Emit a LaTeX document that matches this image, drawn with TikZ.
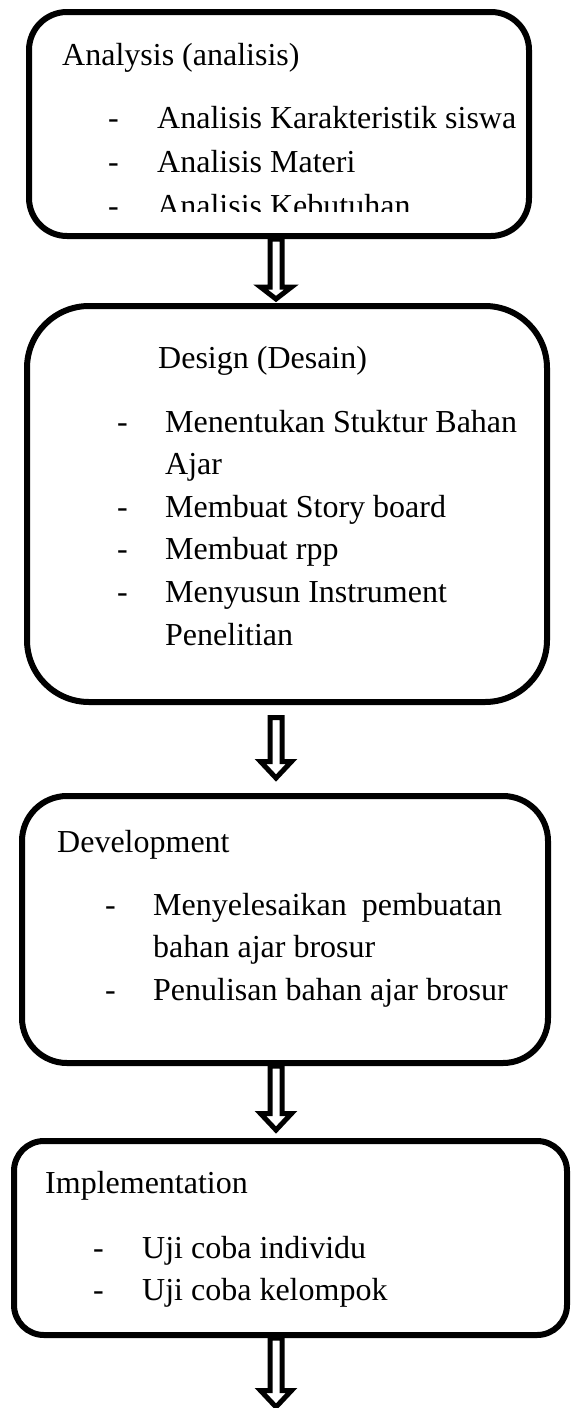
\documentclass[tikz,border=0pt]{standalone}
\usepackage{fontspec}
\setmainfont{Liberation Serif}
\usetikzlibrary{calc}
\pgfdeclarelayer{bg}
\pgfsetlayers{bg,main}
\newcommand\hollowdown[3]{% #1 top point, #2 tip point, #3 head length
  \draw[arrowline] let \p1=(#1), \p2=(#2) in
    (\x1-6pt,\y1) -- (\x1-6pt,\y2+#3) -- (\x1-15.5pt,\y2+#3) -- (\x1,\y2)
    -- (\x1+15.5pt,\y2+#3) -- (\x1+6pt,\y2+#3) -- (\x1+6pt,\y1) -- cycle;}
\begin{document}
\begin{tikzpicture}[x=1pt,y=-1pt,
  stagebox/.style={draw=black, line width=6pt, rectangle, inner sep=0pt, rounded corners=#1},
  arrowline/.style={draw=black, fill=white, line width=5pt, line join=miter},
  txt/.style={anchor=base west, inner sep=0pt, font=\fontsize{32}{38}\selectfont}]
\useasboundingbox (0,0) rectangle (571,1408);
% stage boxes
\node[stagebox=38pt, minimum width=500pt, minimum height=224pt] (b1) at (279,124) {};
\node[stagebox=62pt, minimum width=520pt, minimum height=396pt] (b2) at (287,504) {};
\node[stagebox=45pt, minimum width=526pt, minimum height=267pt] (b3) at (285,929.5) {};
\node[stagebox=30pt, minimum width=553pt, minimum height=194pt] (b4) at (290.5,1238) {};
\coordinate (ax) at (276,0);
\coordinate (end) at (276,1407);
% arrows
\begin{pgfonlayer}{bg}
\hollowdown{b1.south -| ax}{$(b2.north -| ax)+(0,-4)$}{12pt}
\hollowdown{$(b2.south -| ax)+(0,12.5)$}{$(b3.north -| ax)+(0,-15)$}{16.5pt}
\hollowdown{b3.south -| ax}{$(b4.north -| ax)+(0,-8)$}{16.5pt}
\hollowdown{b4.south -| ax}{end}{16.5pt}
\end{pgfonlayer}
% Analysis
\node[txt] (h1) at (62,65) {Analysis (analisis)};
\begin{scope}
\clip (0,0) rectangle (571,211);
\node[txt] (d11) at (108,128) {-};
\node[txt] (t11) at (157,128) {Analisis Karakteristik siswa};
\node[txt] (d12) at (108,172) {-};
\node[txt] (t12) at (157,172) {Analisis Materi};
\node[txt] (d13) at (108,216) {-};
\node[txt] (t13) at (157,216) {Analisis Kebutuhan};
\end{scope}
% Design
\node[txt] (h2) at (158,368) {Design (Desain)};
\node[txt] (d21) at (117,432) {-};
\node[txt] (t21) at (165,432) {Menentukan Stuktur Bahan};
\node[txt] (t21b) at (165,474.6) {Ajar};
\node[txt] (d22) at (117,517.2) {-};
\node[txt] (t22) at (165,517.2) {Membuat Story board};
\node[txt] (d23) at (117,559.8) {-};
\node[txt] (t23) at (165,559.8) {Membuat rpp};
\node[txt] (d24) at (117,602.4) {-};
\node[txt] (t24) at (165,602.4) {Menyusun Instrument};
\node[txt] (t24b) at (165,645) {Penelitian};
% Development
\node[txt] (h3) at (57,852) {Development};
\node[txt] (d31) at (105,915) {-};
\node[txt] (t31) at (153,915) {\makebox[349pt][s]{Menyelesaikan pembuatan}};
\node[txt] (t31b) at (153,957.5) {bahan ajar brosur};
\node[txt] (d32) at (105,1000) {-};
\node[txt] (t32) at (153,1000) {Penulisan bahan ajar brosur};
% Implementation
\node[txt] (h4) at (45,1193) {Implementation};
\node[txt] (d41) at (93,1258) {-};
\node[txt] (t41) at (142,1258) {Uji coba individu};
\node[txt] (d42) at (93,1300) {-};
\node[txt] (t42) at (142,1300) {Uji coba kelompok};
\end{tikzpicture}
\end{document}
